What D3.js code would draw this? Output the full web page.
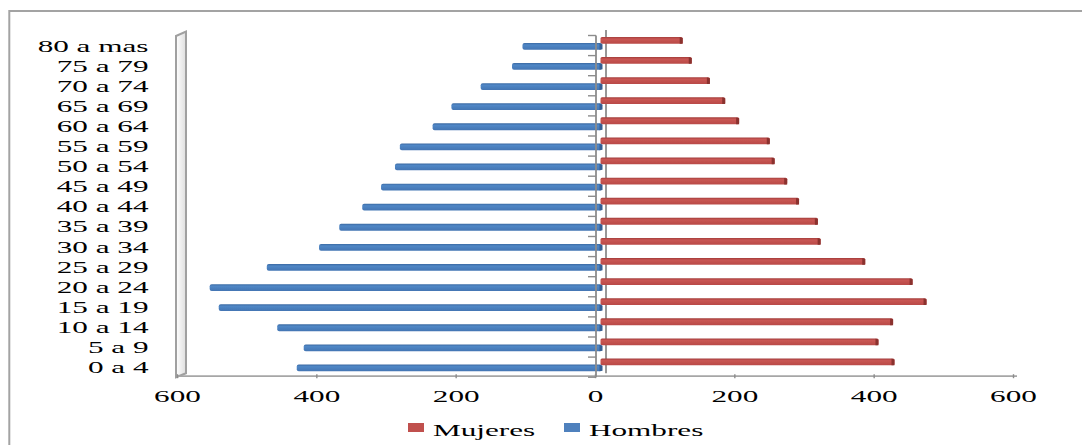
<!DOCTYPE html>
<html>
<head>
<meta charset="utf-8">
<script src="https://cdn.jsdelivr.net/npm/d3@7"></script>
<style>
  html, body { margin: 0; padding: 0; background: #fff; }
  svg { display: block; }
  text { font-family: "Liberation Serif", "Times New Roman", serif; fill: #000; }
</style>
</head>
<body>
<svg id="chart" width="1082" height="445"></svg>
<script>
// Population pyramid: age groups, men (left) and women (right)
const categories = ["0 a 4","5 a 9","10 a 14","15 a 19","20 a 24","25 a 29","30 a 34","35 a 39",
  "40 a 44","45 a 49","50 a 54","55 a 59","60 a 64","65 a 69","70 a 74","75 a 79","80 a mas"];
const hombres = [436,426,464,548,561,479,404,375,342,315,295,288,241,214,172,127,112];
const mujeres = [422,399,420,468,448,380,316,312,285,268,250,243,199,179,157,131,118];
const xTicks = [-600,-400,-200,0,200,400,600];
const seriesNames = ["Mujeres","Hombres"];
const seriesColors = { Mujeres: "#c0504d", Hombres: "#4f81bd" };

const svg = d3.select("#chart");
const STRETCH = 1.95;       // wide serif lettering
const DEPTH_X = 10, DEPTH_Y = -4; // oblique depth of the 3-D plot box

const x = d3.scaleLinear().domain([-600, 600]).range([177, 1013]);
const y = d3.scaleBand().domain(categories.slice().reverse()).range([35.5, 377.2]);
const floorY = y.range()[1];

// Outer chart border
svg.append("rect")
  .attr("x", 9.3).attr("y", 11).attr("width", 1200).attr("height", 600)
  .attr("fill", "none").attr("stroke", "#a3a3a3").attr("stroke-width", 2);

const defs = svg.append("defs");
function barGradient(id, top, mid, bottom) {
  const g = defs.append("linearGradient").attr("id", id)
    .attr("x1", 0).attr("y1", 0).attr("x2", 0).attr("y2", 1);
  g.append("stop").attr("offset", "0%").attr("stop-color", top);
  g.append("stop").attr("offset", "30%").attr("stop-color", mid);
  g.append("stop").attr("offset", "100%").attr("stop-color", bottom);
}
barGradient("gradM", "#a43e3c", "#c95653", "#b94a47");
barGradient("gradH", "#3b6aa3", "#5087c6", "#4375b3");
const wallGrad = defs.append("linearGradient").attr("id", "wallGrad")
  .attr("x1", 0).attr("y1", 0).attr("x2", 1).attr("y2", 0);
wallGrad.append("stop").attr("offset", "0%").attr("stop-color", "#ffffff");
wallGrad.append("stop").attr("offset", "100%").attr("stop-color", "#dedede");
defs.append("filter").attr("id", "soft")
  .append("feGaussianBlur").attr("stdDeviation", 0.55);

// Side wall at the left end of the value axis
const wx = x(-600);
svg.append("path")
  .attr("d", `M${wx - 1},${y.range()[0] + 0.5} L${wx + DEPTH_X - 1},${y.range()[0] + DEPTH_Y}
              L${wx + DEPTH_X - 1},${floorY + DEPTH_Y} L${wx - 1},${floorY} Z`)
  .attr("fill", "url(#wallGrad)").attr("stroke", "#a0a0a0").attr("stroke-width", 2)
  .attr("filter", "url(#soft)");

// Back vertical line at zero
svg.append("line")
  .attr("x1", x(0) + DEPTH_X + 1).attr("x2", x(0) + DEPTH_X + 1)
  .attr("y1", y.range()[0] - 5.5).attr("y2", floorY + DEPTH_Y)
  .attr("stroke", "#8c8c8c").attr("stroke-width", 1.8);

// Floor / value axis
const xAxis = d3.axisBottom(x).tickValues(xTicks)
  .tickFormat(d => Math.abs(d)).tickSize(3).tickPadding(12);
const gx = svg.append("g").attr("transform", `translate(0,${floorY - 1})`).call(xAxis);
gx.select(".domain").attr("stroke", "#a6a6a6").attr("stroke-width", 1.8)
  .attr("d", `M${x(-600)},0H${x(600) + 4}`);
gx.selectAll(".tick line").attr("stroke", "#8c8c8c").attr("stroke-width", 1.4).attr("y1", -2).attr("y2", 2);
gx.selectAll(".tick text")
  .attr("font-size", 16).attr("fill", "#000")
  .attr("y", 0).attr("dy", 0)
  .attr("transform", `translate(0,25.5) scale(${STRETCH},1)`)
  .style("font-family", "'Liberation Serif', serif");

// Bars
const BAR_H = 6.8;
const bars = svg.append("g").attr("filter", "url(#soft)");
const x0 = x(0) + 5.5;
const dxOff = x0 - x(0);

categories.forEach((c, i) => {
  const yc = y(c) + y.bandwidth() / 2;
  // women: to the right
  const mEnd = x(mujeres[i]) + dxOff;
  const my = yc - 5.2 - BAR_H / 2;
  bars.append("rect").attr("x", x0).attr("y", my).attr("width", mEnd - x0).attr("height", BAR_H)
    .attr("rx", 1.5).attr("fill", "url(#gradM)");
  bars.append("path")
    .attr("d", `M${mEnd - 3},${my + 0.3} L${mEnd},${my + 1} L${mEnd},${my + BAR_H} L${mEnd - 3},${my + BAR_H} Z`)
    .attr("fill", "#8a302e");
  // men: to the left
  const hEnd = x(-hombres[i]) + dxOff;
  const hy = yc + 0.8 - BAR_H / 2;
  bars.append("rect").attr("x", hEnd).attr("y", hy).attr("width", x0 + 1.5 - hEnd).attr("height", BAR_H)
    .attr("rx", 2).attr("fill", "url(#gradH)");
  bars.append("path")
    .attr("d", `M${x0 - 1},${hy + 0.5} L${x0 + 2},${hy + 1.2} L${x0 + 2},${hy + BAR_H - 0.5} L${x0 - 1},${hy + BAR_H} Z`)
    .attr("fill", "#365f93");
});

// Front vertical axis with ticks at band boundaries
const vx = x(0) + 1;
svg.append("line").attr("x1", vx).attr("x2", vx)
  .attr("y1", y.range()[0]).attr("y2", floorY)
  .attr("stroke", "#8c8c8c").attr("stroke-width", 1.8);
const bounds = categories.map(c => y(c)).concat([floorY]);
svg.append("g").selectAll("line").data(bounds).join("line")
  .attr("x1", vx - 8).attr("x2", vx).attr("y1", d => d).attr("y2", d => d)
  .attr("stroke", "#8c8c8c").attr("stroke-width", 1.4);

// Category labels
svg.append("g").selectAll("text").data(categories).join("text")
  .attr("text-anchor", "end").attr("font-size", 16)
  .attr("transform", c => `translate(148.5,${y(c) + y.bandwidth() / 2 + 6}) scale(${STRETCH},1)`)
  .text(c => c);

// Legend
const legendX = { Mujeres: 408, Hombres: 564 };
const lg = svg.append("g");
seriesNames.forEach(n => {
  lg.append("rect").attr("x", legendX[n]).attr("y", 423).attr("width", 16).attr("height", 9)
    .attr("fill", seriesColors[n]);
  lg.append("text").attr("font-size", 16)
    .attr("transform", `translate(${legendX[n] + 25},435.5) scale(${STRETCH},1)`)
    .text(n);
});
</script>
</body>
</html>
